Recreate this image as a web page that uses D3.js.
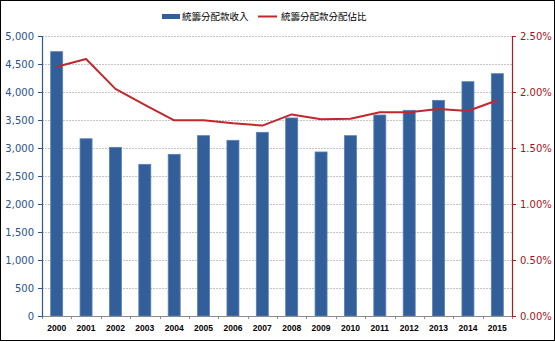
<!DOCTYPE html>
<html><head><meta charset="utf-8">
<script src="https://cdn.jsdelivr.net/npm/d3@7"></script>
<style>
html,body{margin:0;padding:0;background:#fff;}
svg{display:block;}
</style></head>
<body>
<svg id="chart" width="555" height="342"></svg>
<script>
const years = ["2000","2001","2002","2003","2004","2005","2006","2007","2008","2009","2010","2011","2012","2013","2014","2015"];
const revenue = [4720,3165,3012,2708,2887,3220,3137,3280,3536,2929,3220,3589,3673,3851,4184,4327];
const share = [2.225,2.295,2.028,1.885,1.747,1.747,1.72,1.70,1.80,1.756,1.762,1.819,1.82,1.848,1.83,1.926];
const leftTicks = [0,500,1000,1500,2000,2500,3000,3500,4000,4500,5000];
const rightTicks = [0,0.5,1.0,1.5,2.0,2.5];
const seriesNames = ["統籌分配款收入","統籌分配款分配佔比"];

const svg = d3.select("#chart");
const W = 555, H = 342;
const m = {left:42, right:43, top:36, bottom:26};
const iw = W - m.left - m.right, ih = H - m.top - m.bottom;

svg.append("rect").attr("x",0.5).attr("y",0.5).attr("width",W-1).attr("height",H-2)
  .attr("fill","#fff").attr("stroke","#000").attr("stroke-width",1);

const g = svg.append("g").attr("transform",`translate(${m.left},${m.top})`);
const xb = d3.scaleBand().domain(years).range([0,iw]);
const yL = d3.scaleLinear().domain([0,5000]).range([ih,0]);
const yR = d3.scaleLinear().domain([0,2.5]).range([ih,0]);

// grid
g.append("g").selectAll("line").data(leftTicks.filter(d=>d>0)).join("line")
  .attr("x1",0).attr("x2",iw).attr("y1",d=>Math.round(yL(d))+0.5).attr("y2",d=>Math.round(yL(d))+0.5)
  .attr("stroke","#c4c4c4").attr("stroke-width",1).attr("stroke-dasharray","2,1");

// bars
g.append("g").selectAll("rect").data(revenue).join("rect")
  .attr("x",(d,i)=>xb(years[i])+xb.bandwidth()/2-6)
  .attr("width",12)
  .attr("y",d=>yL(d)).attr("height",d=>ih-yL(d))
  .attr("fill","#325f9a").attr("stroke","#5a80b4").attr("stroke-width",0.8);

// x axis
const xAxis = d3.axisBottom(xb).tickSize(0).tickPadding(9);
const xg = g.append("g").attr("transform",`translate(0,${ih})`).call(xAxis);
xg.select(".domain").attr("stroke","#8c8c8c");
xg.selectAll("text").attr("font-family","Liberation Sans, Arial, sans-serif").attr("font-weight","bold").attr("font-size","8.5px").attr("fill","#000");
xg.append("g").selectAll("line").data(years.concat(["end"])).join("line")
  .attr("x1",(d,i)=>Math.round(i*xb.step())+0.5).attr("x2",(d,i)=>Math.round(i*xb.step())+0.5)
  .attr("y1",0).attr("y2",3).attr("stroke","#8c8c8c");

// left axis
const lg = g.append("g").call(d3.axisLeft(yL).tickValues(leftTicks).tickFormat(d3.format(",")).tickSize(4).tickPadding(4));
lg.select(".domain").attr("stroke","#2f5597").attr("stroke-width",1.2);
lg.selectAll(".tick line").attr("stroke","#2f5597");
lg.selectAll("text").attr("font-family","DejaVu Sans, Verdana, sans-serif").attr("font-size","10px").attr("fill","#2a5090");

// right axis
const rg = g.append("g").attr("transform",`translate(${iw},0)`)
  .call(d3.axisRight(yR).tickValues(rightTicks).tickFormat(d=>d.toFixed(2)+"%").tickSize(4).tickPadding(4));
rg.select(".domain").attr("stroke","#b01c1c").attr("stroke-width",1.2);
rg.selectAll(".tick line").attr("stroke","#b01c1c");
rg.selectAll("text").attr("font-family","DejaVu Sans, Verdana, sans-serif").attr("font-size","10px").attr("fill","#a3161a");

// line
const line = d3.line().x((d,i)=>xb(years[i])+xb.bandwidth()/2).y(d=>yR(d));
g.append("path").datum(share).attr("d",line).attr("fill","none")
  .attr("stroke","#c0282d").attr("stroke-width",2).attr("stroke-linejoin","round");

// legend
const leg = svg.append("g").attr("font-family","Noto Sans CJK TC, sans-serif").attr("font-size","9.5px");
leg.append("rect").attr("x",162).attr("y",14).attr("width",18).attr("height",5).attr("fill","#325f9a");
leg.append("text").attr("x",182).attr("y",20).text(seriesNames[0]).attr("fill","#000");
leg.append("line").attr("x1",258).attr("x2",277).attr("y1",16.5).attr("y2",16.5).attr("stroke","#c0282d").attr("stroke-width",2);
leg.append("text").attr("x",281).attr("y",20).text(seriesNames[1]).attr("fill","#000");
</script>
</body></html>
